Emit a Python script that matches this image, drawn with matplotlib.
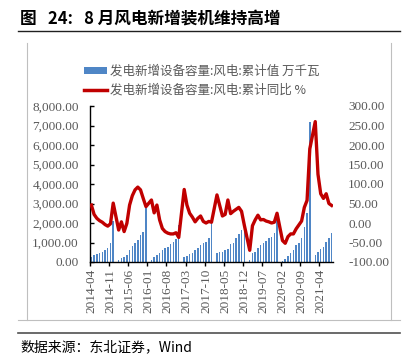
import matplotlib
matplotlib.use('Agg')
import matplotlib.pyplot as plt
from matplotlib.lines import Line2D
from matplotlib.patches import Patch
from matplotlib.ticker import FuncFormatter, MultipleLocator
import numpy as np
import pandas as pd

# 月份：2014-04 ~ 2021-08
months = pd.period_range('2014-04', '2021-08', freq='M').strftime('%Y-%m').tolist()

# 发电新增设备容量:风电:累计值（万千瓦），1月无数据
cap_2014 = [270, 360, 410, 440, 500, 590, 700, 950, 2120]
cap_2015 = [None, 90, 190, 240, 360, 615, 830, 970, 1130, 1370, 1550, 2950]
cap_2016 = [None, 100, 240, 360, 480, 620, 700, 790, 900, 1020, 1200, 1900]
cap_2017 = [None, 270, 330, 410, 480, 600, 700, 860, 960, 1040, 1210, 1980]
cap_2018 = [None, 480, 500, 510, 590, 660, 920, 990, 1210, 1430, 1620, 1750]
cap_2019 = [None, 100, 480, 530, 700, 870, 990, 1090, 1210, 1300, 1470, 2550]
cap_2020 = [None, 70, 170, 310, 445, 615, 870, 960, 1250, 1810, 2500, 7160]
cap_2021 = [None, 360, 530, 670, 790, 1040, 1250, 1470]

# 发电新增设备容量:风电:累计同比（%）
yoy_2014 = [46, 22, 12, 6, 2, -4, -8, -2, 51]
yoy_2015 = [None, -18, 3, -22, -1, 46, 70, 85, 92, 85, 63, 42]
yoy_2016 = [None, 59, 26, 46, 8, -14, -22, -26, -28, -28, -25, -37]
yoy_2017 = [None, 86, 46, 25, 15, 3, 12, 18, 4, 0, 4, 2]
yoy_2018 = [None, 72, 45, 18, 22, 59, 24, 30, 35, 40, 30, -5]
yoy_2019 = [None, -70, -7, 8, 20, 8, 9, 5, 3, 0, 2, 25]
yoy_2020 = [None, -45, -52, -35, -28, -28, -15, -5, 5, 40, 58, 190]
yoy_2021 = [None, 260, 125, 75, 63, 75, 50, 45]

cap = np.array(cap_2014 + cap_2015 + cap_2016 + cap_2017 + cap_2018
               + cap_2019 + cap_2020 + cap_2021, dtype=float)
yoy = np.array(yoy_2014 + yoy_2015 + yoy_2016 + yoy_2017 + yoy_2018
               + yoy_2019 + yoy_2020 + yoy_2021, dtype=float)

title = '图   24:   8 月风电新增装机维持高增'
label_bar = '发电新增设备容量:风电:累计值 万千瓦'
label_line = '发电新增设备容量:风电:累计同比 %'
source = '数据来源：东北证券，Wind'

cjk = ['Noto Sans CJK SC', 'DejaVu Sans']
num_font = 'Liberation Serif'
grey = '#595959'
bar_color = '#4f86c6'
line_color = '#c00000'

plt.rcParams['font.family'] = cjk

W, H = 411, 362
fig = plt.figure(figsize=(W / 100, H / 100), dpi=100)

def fx(px):
    return px / W

def fy(py):
    return 1 - py / H

ax = fig.add_axes([fx(90), fy(262), fx(333) - fx(90), fy(106) - fy(262)])
ax2 = ax.twinx()

x = np.arange(len(months))
ok = ~np.isnan(cap)
ax.bar(x[ok], cap[ok], width=0.55, color=bar_color, linewidth=0, zorder=2)
ax.set_xlim(-0.5, len(months) - 0.5)
ax.set_ylim(0, 8000)
ax.yaxis.set_major_locator(MultipleLocator(1000))
ax.yaxis.set_major_formatter(FuncFormatter(lambda v, p: f'{v:,.2f}'))

ok2 = ~np.isnan(yoy)
ax2.plot(x[ok2], yoy[ok2], color=line_color, linewidth=2.4, solid_joinstyle='round')
ax2.set_ylim(-100, 300)
ax2.yaxis.set_major_locator(MultipleLocator(50))
ax2.yaxis.set_major_formatter(FuncFormatter(lambda v, p: f'{v:.2f}'))

# 坐标轴样式
for a in (ax, ax2):
    for s in ('top', 'right'):
        a.spines[s].set_visible(False)
ax2.spines['left'].set_visible(False)
ax2.spines['bottom'].set_visible(False)
ax.spines['left'].set_color('black')
ax.spines['bottom'].set_color('black')
ax.spines['left'].set_linewidth(1.0)
ax.spines['bottom'].set_linewidth(1.0)

ax.tick_params(axis='y', direction='in', length=3, width=1, colors='black',
               labelcolor=grey, labelsize=9.5, pad=8)
ax2.tick_params(axis='y', length=0, labelcolor=grey, labelsize=9.5, pad=11)

# x轴：刻度在类别边界，每7个月一个标签
tick_idx = np.arange(0, len(months), 7)
ax.set_xticks(tick_idx - 0.5, minor=False)
ax.set_xticklabels([''] * len(tick_idx))
ax.tick_params(axis='x', direction='out', length=3, width=1, colors='black')
ax.set_xticks(tick_idx, minor=True)
ax.set_xticklabels([months[i] for i in tick_idx], minor=True, rotation=90)
ax.tick_params(axis='x', which='minor', length=0, labelcolor=grey,
               labelsize=9.5, pad=5)

for lab in ax.get_yticklabels() + ax2.get_yticklabels() + ax.get_xticklabels(minor=True):
    lab.set_fontfamily(num_font)

# 图例
handles = [Patch(facecolor=bar_color, edgecolor='none'),
           Line2D([0], [0], color=line_color, linewidth=2.5)]
leg = ax.legend(handles, [label_bar, label_line], loc='upper left',
                bbox_to_anchor=(fx(84), fy(65)), bbox_transform=fig.transFigure,
                frameon=False, fontsize=9, handlelength=1.8, handleheight=0.45,
                handletextpad=0.3, labelspacing=0.45, borderpad=0, borderaxespad=0)
for t in leg.get_texts():
    t.set_color(grey)

# 标题与边框
fig.text(fx(20), fy(19), title, fontsize=12, fontweight='bold',
         ha='left', va='center', family=cjk)
fig.add_artist(Line2D([fx(18), fx(400)], [fy(31), fy(31)], color='#202020', lw=1.0))
fig.add_artist(Line2D([fx(27), fx(27)], [fy(43), fy(320)], color='#bfbfbf', lw=0.8))
fig.add_artist(Line2D([fx(391), fx(391)], [fy(43), fy(320)], color='#bfbfbf', lw=0.8))
fig.add_artist(Line2D([fx(18), fx(400)], [fy(320), fy(320)], color='#bfbfbf', lw=0.8))
fig.add_artist(Line2D([fx(18), fx(400)], [fy(333), fy(333)], color='#505050', lw=1.2))
fig.text(fx(20), fy(347), source, fontsize=10, ha='left', va='center', family=cjk)

fig.savefig('out.png', dpi=100)
plt.close(fig)
